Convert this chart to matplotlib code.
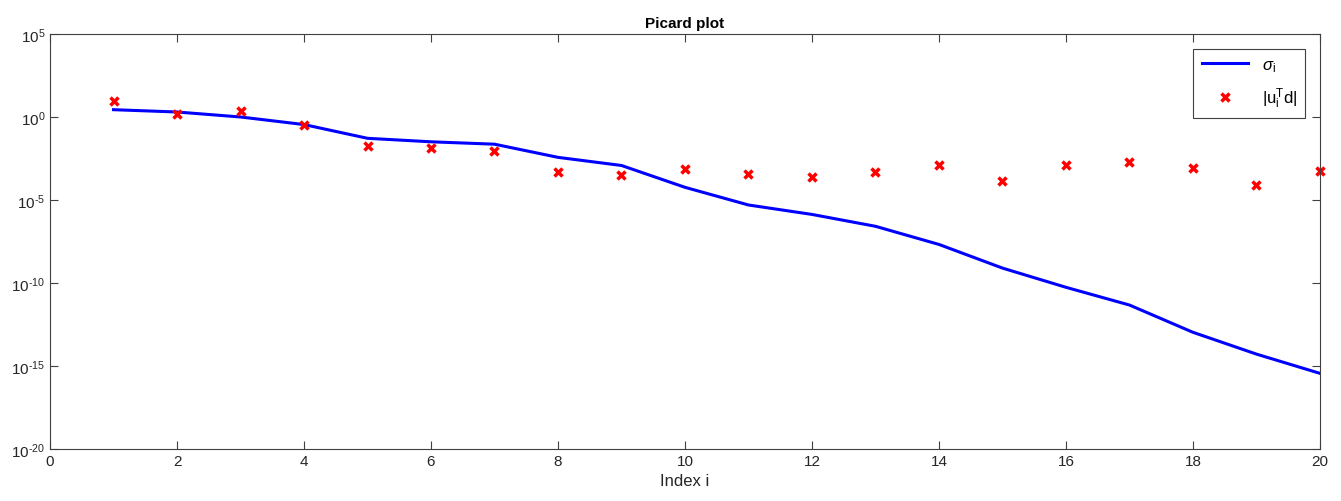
import numpy as np
import matplotlib.pyplot as plt

plt.rcParams['font.family'] = ['Liberation Sans', 'DejaVu Sans']
plt.rcParams['mathtext.fontset'] = 'custom'
plt.rcParams['mathtext.rm'] = 'Liberation Sans'
plt.rcParams['mathtext.it'] = 'Liberation Sans:italic'
plt.rcParams['axes.unicode_minus'] = False

indices = list(range(1, 21))
sigma = [2.75, 2.0, 1.0, 3.5e-1, 5.2e-2, 3.2e-2, 2.3e-2, 3.7e-3, 1.2e-3, 5.8e-5,
         5.0e-6, 1.35e-6, 2.6e-7, 2.1e-8, 7.9e-10, 5.5e-11, 4.7e-12, 1.07e-13, 5.2e-15, 3.6e-16]
utd = [9.5, 1.5, 2.4, 3.3e-1, 1.9e-2, 1.35e-2, 9.3e-3, 5.1e-4, 3.2e-4, 7.4e-4,
       3.5e-4, 2.6e-4, 5.1e-4, 1.35e-3, 1.45e-4, 1.35e-3, 1.9e-3, 8.1e-4, 7.9e-5, 5.9e-4]
xticks = list(range(0, 21, 2))
yticks = [1e-20, 1e-15, 1e-10, 1e-5, 1e0, 1e5]
ytick_exps = ['\u201020', '\u201015', '\u201010', '\u20105', '0', '5']

axis_col = '#404040'

fig = plt.figure(figsize=(13.41, 5.02), dpi=100)
ax = fig.add_axes([0.0373, 0.1036, 0.947, 0.8267])

ax.semilogy(indices, sigma, color='#0000ff', linewidth=2.2, label=r'$\sigma_\mathrm{i}$')
ax.semilogy(indices, utd, linestyle='none', marker='x', color='#ff0000',
            markersize=6, markeredgewidth=2.5, clip_on=False,
            label=r'$\mathrm{|u_i^T d|}$')

ax.set_xlim(0, 20)
ax.set_ylim(1e-20, 1e5)
ax.set_xticks(xticks)
ax.set_yticks(yticks)
ax.set_yticklabels(['$\\mathregular{10^{%s}}$' % e for e in ytick_exps])
ax.minorticks_off()
ax.tick_params(direction='in', top=True, right=True, length=6, width=0.8,
               colors=axis_col, labelsize=11, labelcolor='#262626')
for s in ax.spines.values():
    s.set_color(axis_col)
    s.set_linewidth(0.8)

ax.set_title('Picard plot', fontsize=11, fontweight='bold', pad=5)
ax.set_xlabel('Index i', fontsize=12, color='#262626', labelpad=4)

leg = ax.legend(loc='upper right', bbox_to_anchor=(0.995, 0.985), fontsize=12,
                fancybox=False, framealpha=1, edgecolor=axis_col,
                handlelength=2.8, borderpad=0.5, labelspacing=0.7)
leg.get_frame().set_linewidth(0.8)

fig.savefig('out.png', dpi=100)
